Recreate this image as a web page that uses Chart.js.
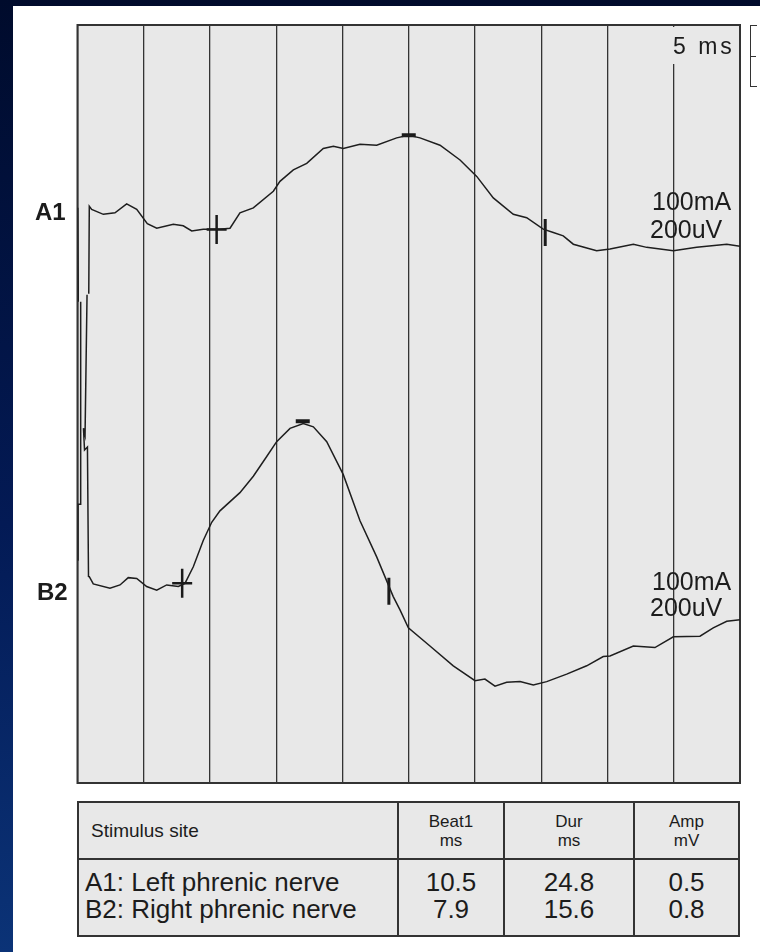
<!DOCTYPE html>
<html>
<head>
<meta charset="utf-8">
<script src="https://cdn.jsdelivr.net/npm/chart.js@4.4.0/dist/chart.umd.min.js"></script>
<style>
  html, body { margin: 0; padding: 0; }
  body {
    width: 760px; height: 952px; position: relative; overflow: hidden;
    background: linear-gradient(to bottom, #000b2c 0%, #031a55 55%, #0b3377 100%);
    font-family: "Liberation Sans", Arial, sans-serif; color: #1c1c1c;
  }
  #sheet { position: absolute; left: 13px; top: 6px; right: 0; bottom: 0; background: #fff; }
  #chart { position: absolute; left: 0; top: 0; }
  .lbl { position: absolute; line-height: 1; white-space: nowrap; }
  .site { font-weight: bold; font-size: 24px; }
  .gain { font-size: 25px; }
  #scaleBox { position: absolute; left: 668px; top: 27px; width: 70px; height: 37px; background: #e8e8e8; }
  #scaleTxt { position: absolute; left: 673px; top: 35px; font-size: 23px; letter-spacing: 3px; }
  #bracket { position: absolute; left: 750px; top: 25px; width: 6px; height: 60px;
    border-left: 1.5px solid #333; border-top: 1.5px solid #333; border-bottom: 1.5px solid #333; }
  #bracketMid { position: absolute; left: 750px; top: 56px; width: 6px; border-top: 1.5px solid #333; }
  #tbl {
    position: absolute; left: 77px; top: 801px; width: 663px;
    border-collapse: collapse; background: #e8e8e8; border: 2px solid #333;
  }
  #tbl th, #tbl td { border: 2px solid #333; padding: 0; }
  #tbl th { height: 55px; font-weight: normal; font-size: 17px; line-height: 19px; text-align: center; vertical-align: middle; }
  #tbl th.first { text-align: left; padding-left: 12px; font-size: 19px; }
  #tbl td { height: 77px; font-size: 26px; line-height: 27px; text-align: center; vertical-align: top; padding-top: 9px; box-sizing: border-box; }
  #tbl td.first { text-align: left; padding-left: 6px; }
</style>
</head>
<body>
<div id="sheet"></div>
<canvas id="chart" width="760" height="800"></canvas>

<div class="lbl site" style="left:35px; top:200px;">A1</div>
<div class="lbl site" style="left:37px; top:580px;">B2</div>
<div class="lbl gain" style="left:652px; top:189px;">100mA</div>
<div class="lbl gain" style="left:650px; top:217px;">200uV</div>
<div class="lbl gain" style="left:652px; top:569px;">100mA</div>
<div class="lbl gain" style="left:650px; top:595px;">200uV</div>
<div id="scaleBox"></div>
<div id="scaleTxt" class="lbl">5 ms</div>
<div id="bracket"></div>
<div id="bracketMid"></div>

<table id="tbl">
  <thead>
    <tr>
      <th class="first" style="width:306px">Stimulus site</th>
      <th style="width:104px">Beat1<br>ms</th>
      <th style="width:128px">Dur<br>ms</th>
      <th>Amp<br>mV</th>
    </tr>
  </thead>
  <tbody id="tblBody"></tbody>
</table>

<script>
// time (ms) and amplitude (uV, relative to each trace's baseline); null breaks the line
const timeA1 = [0.02, 0.06, 0.5, 0.85, 0.89, 1.07, 1.95, 2.83, 3.71, 4.47, 5.27, 5.98, 7.23, 7.98, 8.62, 9.49,
  10.75, 11.51, 12.26, 13.27, 14.78, 15.28, 16.29, 17.30, 18.55, 19.31, 20.06, 21.32, 22.58, 24.09, 24.97,
  25.85, 27.36, 28.87, 30.13, 31.38, 32.89, 33.90, 35.15, 35.91, 36.66, 37.42, 39.18, 40.19, 41.95, 42.96,
  44.97, 46.73, 49.00, 50.0];
const ampA1 = [110, -365, null, -325, 118, 102, 77, 85, 130, 102, 30, 7, 27, 19, -7, 2,
  2, 7, 85, 110, 194, 244, 302, 335, 410, 422, 410, 432, 427, 464, 477,
  464, 427, 352, 269, 160, 77, 60, 2, -15, -32, -74, -107, -98, -74, -90,
  -107, -90, -74, -85];

const timeB2 = [0.04, 0.04, 0.24, 0.24, 0.5, 0.72, 0.57, 0.45, 0.53, 0.75, 0.83, 0.89, 1.19, 2.45, 3.21, 3.83,
  4.47, 5.22, 5.98, 6.73, 7.61, 8.11, 8.74, 9.49, 10.13, 10.75, 12.26, 13.27, 14.28, 15.03, 16.04, 17.04,
  17.80, 18.81, 20.06, 21.32, 22.58, 23.83, 24.34, 24.97, 26.60, 28.36, 30.00, 30.75, 31.51, 32.39, 33.40,
  34.40, 35.41, 36.92, 38.43, 39.68, 40.19, 41.95, 43.58, 44.97, 46.98, 47.98, 49.00, 50.0];
const ampB2 = [135, 420, 420, 1445, null, 1480, 770, 805, 695, 710, 55, 54, 17, -5, 12, 49,
  45, 4, -14, 12, 4, 20, 104, 237, 329, 387, 479, 562, 662, 737, 804, 829,
  812, 737, 570, 337, 154, -47, -114, -205, -297, -397, -472, -464, -500, -480, -477,
  -494, -477, -439, -397, -350, -347, -297, -305, -250, -247, -205, -172, -164];

// baseline position of each trace on the screen (uV above panel bottom)
const offsetA1 = 2800;
const offsetB2 = 990;

// table values
const sites = ["A1: Left phrenic nerve", "B2: Right phrenic nerve"];
const beat1 = [10.5, 7.9];
const dur = [24.8, 15.6];
const amp = [0.5, 0.8];

// marker positions: peak latency (ms) and marker levels (uV)
const peakMs = [25.0, 17.0];
const onsetUv = [0, 20];
const peakUv = [477, 840];
const endUv = [-15, -20];

document.getElementById("tblBody").innerHTML =
  "<tr><td class='first'>" + sites.join("<br>") + "</td>" +
  "<td>" + beat1.map(v => v.toFixed(1)).join("<br>") + "</td>" +
  "<td>" + dur.map(v => v.toFixed(1)).join("<br>") + "</td>" +
  "<td>" + amp.map(v => v.toFixed(1)).join("<br>") + "</td></tr>";

function trace(times, amps, offset) {
  return times.map((t, i) => ({ x: t, y: amps[i] === null ? null : offset + amps[i] }));
}

function markers(i, offset) {
  const onset = beat1[i];
  const end = beat1[i] + dur[i];
  return {
    data: [
      { x: onset, y: offset + onsetUv[i] },
      { x: onset, y: offset + onsetUv[i] },
      { x: peakMs[i], y: offset + peakUv[i] },
      { x: end, y: offset + endUv[i] },
    ],
    showLine: false,
    pointStyle: "line",
    pointRotation: [0, 90, 0, 90],
    pointRadius: [10, 14.5, 7, 13.5],
    pointBorderWidth: [2.5, 2.5, 4, 3],
    pointBorderColor: "#1a1a1a",
    pointBackgroundColor: "#1a1a1a",
  };
}

const lineStyle = {
  showLine: true,
  borderColor: "#1e1e1e",
  borderWidth: 1.5,
  pointRadius: 0,
  tension: 0,
  spanGaps: false,
};

const panel = {
  id: "panel",
  beforeDraw(chart) {
    const { ctx, chartArea: a } = chart;
    ctx.save();
    ctx.fillStyle = "#e8e8e8";
    ctx.fillRect(a.left, a.top, a.right - a.left, a.bottom - a.top);
    ctx.restore();
  },
  beforeDatasetsDraw(chart) {
    const { ctx, chartArea: a } = chart;
    ctx.save();
    ctx.strokeStyle = "#333";
    ctx.lineWidth = 2;
    ctx.strokeRect(a.left, a.top, a.right - a.left, a.bottom - a.top);
    ctx.restore();
  },
};

new Chart(document.getElementById("chart"), {
  type: "scatter",
  data: {
    datasets: [
      Object.assign({ data: trace(timeA1, ampA1, offsetA1) }, lineStyle),
      Object.assign({ data: trace(timeB2, ampB2, offsetB2) }, lineStyle),
      markers(0, offsetA1),
      markers(1, offsetB2),
    ],
  },
  options: {
    responsive: false,
    animation: false,
    devicePixelRatio: 1,
    events: [],
    layout: { padding: { left: 77.5, top: 25, right: 20, bottom: 8 } },
    plugins: { legend: { display: false }, tooltip: { enabled: false } },
    scales: {
      x: {
        type: "linear", min: 0, max: 50,
        ticks: { display: false, stepSize: 5 },
        grid: { color: "#333", lineWidth: 1.3, drawTicks: false },
        border: { display: true, color: "#333", width: 2 },
      },
      y: { display: false, min: 0, max: 3835 },
    },
  },
  plugins: [panel],
});
</script>
</body>
</html>
